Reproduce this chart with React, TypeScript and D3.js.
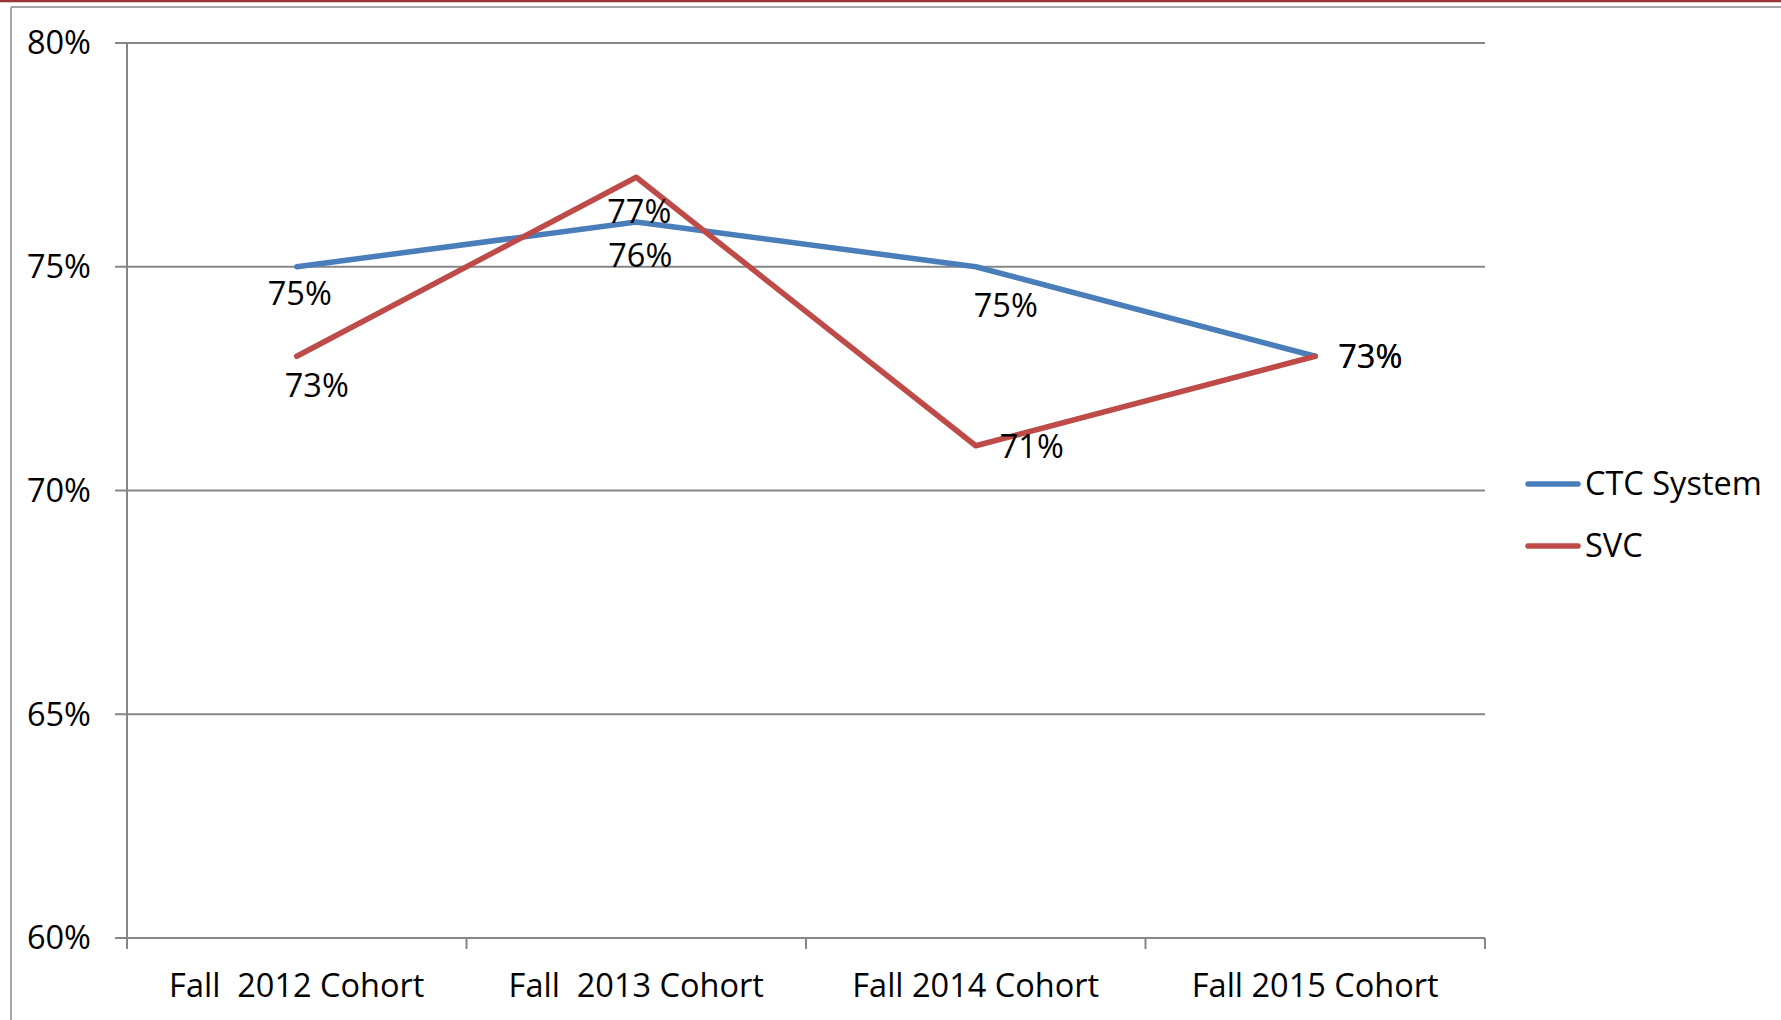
import React from "react";
import * as d3 from "d3";

const categories = ["Fall  2012 Cohort", "Fall  2013 Cohort", "Fall 2014 Cohort", "Fall 2015 Cohort"];
const seriesNames = ["CTC System", "SVC"];
const ctcValues = [0.75, 0.76, 0.75, 0.73];
const svcValues = [0.73, 0.77, 0.71, 0.73];
const yTicks = [0.6, 0.65, 0.7, 0.75, 0.8];
// manual label offsets (dx, dy baseline) relative to the point, as in the original
const ctcLabelOffsets = [[3, 38], [4, 45], [30, 50], [55, 12]];
const svcLabelOffsets = [[20, 41], [3, 46], [56, 12], [55, 12]];

const W = 1781;
const H = 1020;
const colors = ["#4A7EBB", "#BE4B48"];
const font = "'Open Sans', 'Noto Sans', sans-serif";
const fs = 32.5;

export default function App() {
  const left = 127, right = 1485, top = 43, bottom = 938;
  const x = d3.scaleBand<string>().domain(categories).range([left, right]);
  const y = d3.scaleLinear().domain([0.6, 0.8]).range([bottom, top]);
  const line = d3.line<number>()
    .x((_, i) => (x(categories[i]) as number) + x.bandwidth() / 2)
    .y((d) => y(d));
  const fmt = d3.format(".0%");
  const series = [ctcValues, svcValues];
  const offsets = [ctcLabelOffsets, svcLabelOffsets];
  const bounds = categories.map((c) => x(c) as number).concat([right]);

  return (
    <svg width={W} height={H} style={{ position: "absolute", left: 0, top: 0, display: "block" }} fontFamily={font}>
      <rect x={0} y={0} width={W} height={H} fill="#fff" />
      <line x1={0} x2={W} y1={1} y2={1} stroke="#953735" strokeWidth={2.5} />
      <line x1={11} x2={W} y1={7} y2={7} stroke="#a6a6a6" strokeWidth={2} />
      <line x1={11} x2={11} y1={7} y2={H} stroke="#a6a6a6" strokeWidth={2} />
      {yTicks.map((t) => (
        <g key={t}>
          <line x1={left - 12} x2={right} y1={y(t)} y2={y(t)} stroke="#868686" strokeWidth={2} />
          <text x={91} y={y(t)} dy="0.35em" textAnchor="end" fontSize={fs} fill="#000">{fmt(t)}</text>
        </g>
      ))}
      <line x1={left} x2={left} y1={top} y2={bottom} stroke="#868686" strokeWidth={2} />
      {bounds.map((b, i) => (
        <line key={i} x1={b} x2={b} y1={bottom} y2={bottom + 11} stroke="#868686" strokeWidth={2} />
      ))}
      {categories.map((c) => (
        <text key={c} x={(x(c) as number) + x.bandwidth() / 2} y={997} textAnchor="middle" fontSize={fs} fill="#000" style={{ whiteSpace: "pre" }}>{c}</text>
      ))}
      {series.map((s, si) => (
        <path key={si} d={line(s) as string} fill="none" stroke={colors[si]} strokeWidth={5.5} strokeLinejoin="round" strokeLinecap="round" />
      ))}
      {series.map((s, si) =>
        s.map((v, i) => (
          <text key={si + "-" + i}
            x={(x(categories[i]) as number) + x.bandwidth() / 2 + offsets[si][i][0]}
            y={y(v) + offsets[si][i][1]}
            textAnchor="middle" fontSize={fs} fill="#000">{fmt(v)}</text>
        ))
      )}
      {seriesNames.map((n, i) => (
        <g key={n}>
          <line x1={1528} x2={1578} y1={484 + i * 62} y2={484 + i * 62} stroke={colors[i]} strokeWidth={5.5} strokeLinecap="round" />
          <text x={1585} y={484 + i * 62} dy="0.35em" fontSize={fs} fill="#000">{n}</text>
        </g>
      ))}
    </svg>
  );
}
